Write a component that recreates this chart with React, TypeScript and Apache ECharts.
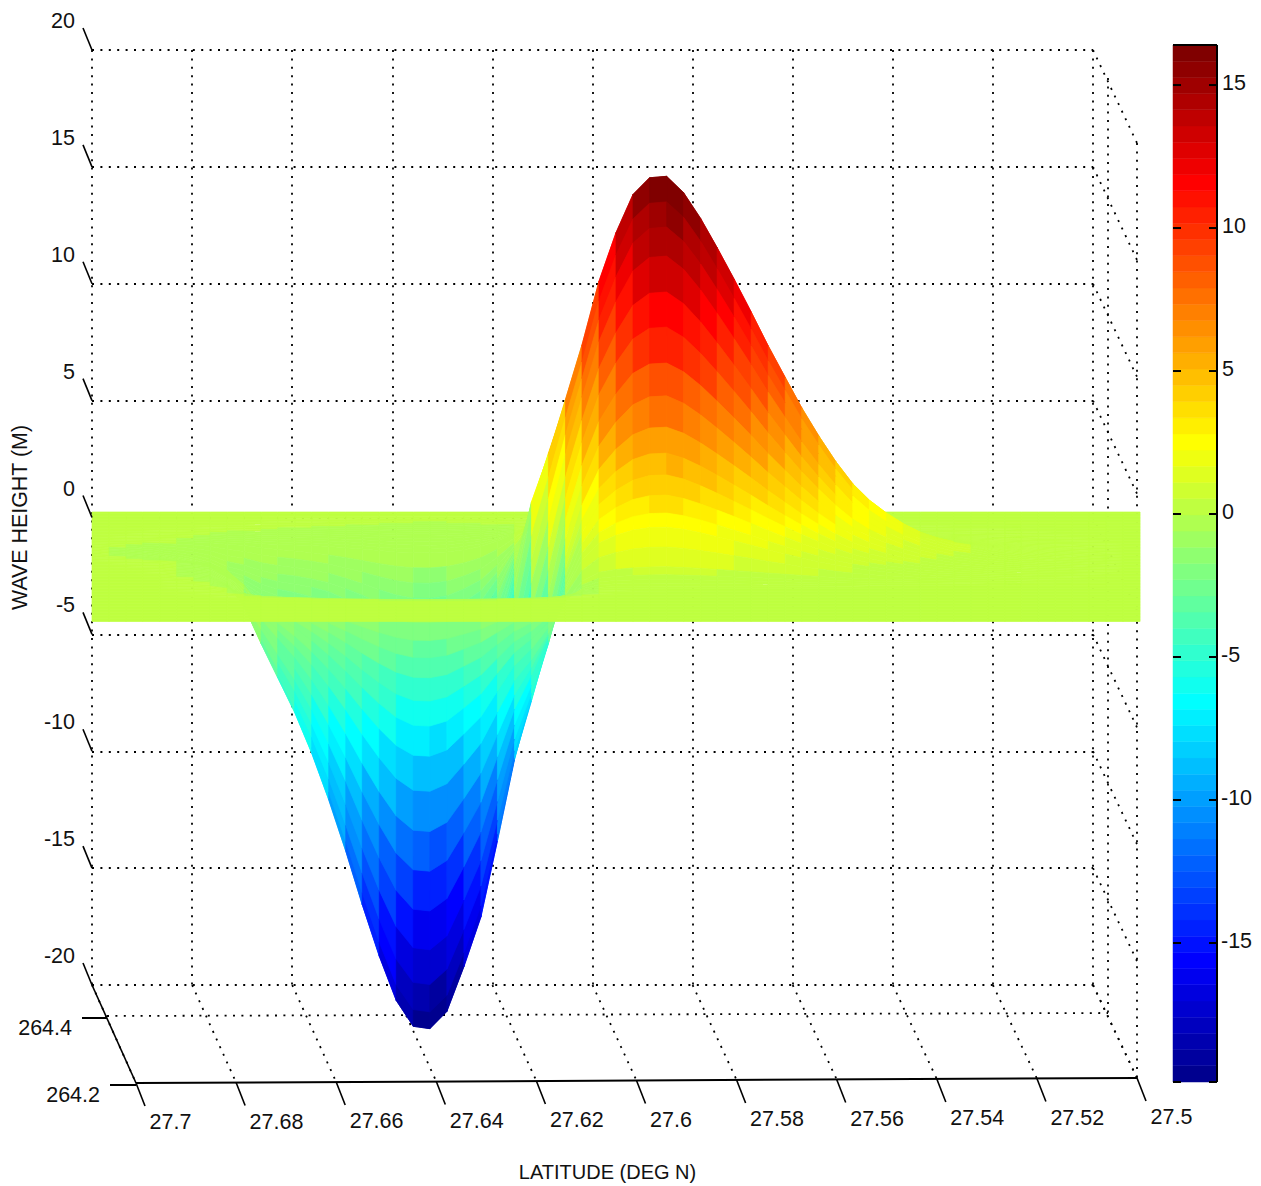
import React, { useEffect, useRef } from "react";
import * as echarts from "echarts";

const FONT = "Liberation Sans";

const latitudes = [27.7, 27.6966, 27.6932, 27.6899, 27.6865, 27.6831, 27.6797, 27.6764, 27.673, 27.6696, 27.6662, 27.6629, 27.6595, 27.6561, 27.6527, 27.6493, 27.646, 27.6426, 27.6392, 27.6358, 27.6325, 27.6291, 27.6257, 27.6223, 27.619, 27.6156, 27.6122, 27.6088, 27.6054, 27.6021, 27.5987, 27.5953, 27.5919, 27.5886, 27.5852, 27.5818, 27.5784, 27.5751, 27.5717, 27.5683, 27.5649, 27.5615, 27.5582, 27.5548, 27.5514, 27.548, 27.5447, 27.5413, 27.5379, 27.5345, 27.5312, 27.5278, 27.5244, 27.521, 27.5176, 27.5143, 27.5109, 27.5075, 27.5041, 27.5008, 27.4974, 27.494, 27.4906];

// Height of the crest, of the trough and of the shallow shelf along latitude (m)
const crestProfile = [0, 0, 0, 0, 0, 0, 0, 0, 0, 0, 0, 0, 0, 0, 0, 0, 0, 0, 0, 0, 0, 0.1, 0.4, 1, 2.2, 4, 6.55, 7.6, 8.25, 9.6, 11.95, 13.97, 15.6, 16.3, 16.35, 15.65, 14.55, 13.3, 11.95, 10.55, 9.1, 7.75, 6.45, 5.25, 4.15, 3.2, 2.5, 1.95, 1.48, 1.1, 0.84, 0.62, 0.5, 0.38, 0.28, 0.2, 0.14, 0.1, 0.07, 0.04, 0.02, 0, 0];
const troughProfile = [0, 0, 0, 0, 0, -0.035, -0.06, -0.12, -0.5, -1.5, -3.1, -4.55, -6.05, -7.8, -9.8, -12, -14.3, -16.5, -18.4, -19.5, -19.6, -18.9, -17.1, -15.2, -12.4, -9.6, -7.86, -5.5, -2.5, -0.8, -0.15, -0.05, -0.04, -0.02, 0, 0, 0, 0, 0, 0, 0, 0, 0, 0, 0, 0, 0, 0, 0, 0, 0, 0, 0, 0, 0, 0, 0, 0, 0, 0, 0, 0, 0];
const shelfProfile = [0, -0.04, -0.08, -0.13, -0.2, -0.3, -0.42, -0.6, -0.9, -0.9, -0.9, -0.8, -0.6, -0.4, -0.2, -0.1, 0, 0, 0, 0, 0, 0, 0, 0, 0, 0, 0, 0, 0, 0, 0, 0, 0, 0, 0, 0, 0, 0, 0, 0, 0, 0, 0, 0, 0, 0, 0, 0, 0, 0, 0, 0, 0, 0, 0, 0, 0, 0, 0, 0, 0, 0, 0];

// Share of that height reached on each row across longitude, back to front
const crestAcross = [0, 0, 0, 0, 0, 0, 0, 0.001, 0.002, 0.004, 0.008, 0.013, 0.02, 0.03, 0.04, 0.055, 0.075, 0.1, 0.13, 0.17, 0.21, 0.26, 0.32, 0.39, 0.47, 0.56, 0.65, 0.74, 0.82, 0.9, 0.96, 1, 0.937, 0.875, 0.803, 0.713, 0.625, 0.535, 0.453, 0.375, 0.311, 0.258, 0.209, 0.166, 0.133, 0.085, 0.037, 0.02, 0.012, 0.006, 0.002, 0, 0, 0, 0, 0, 0, 0, 0, 0, 0, 0, 0, 0, 0, 0, 0, 0, 0, 0, 0, 0, 0, 0];
const troughAcross = [0, 0, 0, 0.0008, 0.001, 0.0013, 0.0016, 0.002, 0.003, 0.004, 0.005, 0.006, 0.008, 0.01, 0.012, 0.016, 0.02, 0.025, 0.03, 0.06, 0.09, 0.12, 0.15, 0.18, 0.22, 0.26, 0.31, 0.36, 0.41, 0.46, 0.52, 0.58, 0.65, 0.72, 0.78, 0.85, 0.9, 0.95, 0.98, 1, 0.96, 0.897, 0.818, 0.73, 0.64, 0.55, 0.459, 0.379, 0.31, 0.252, 0.198, 0.151, 0.11, 0.068, 0.045, 0.025, 0.012, 0.005, 0.002, 0.001, 0, 0, 0, 0, 0, 0, 0, 0, 0, 0, 0, 0, 0, 0];
const shelfAcross = [0, 0, 0, 0, 0, 0, 0, 0, 0, 0.005, 0.01, 0.02, 0.035, 0.05, 0.06, 0.075, 0.09, 0.105, 0.12, 0.14, 0.3, 0.5, 0.7, 0.85, 0.95, 1, 1, 0.95, 0.85, 0.7, 0.5, 0.3, 0.14, 0.12, 0.1, 0.08, 0.065, 0.05, 0.04, 0.035, 0.03, 0.025, 0.02, 0.01, 0.005, 0, 0, 0, 0, 0, 0, 0, 0, 0, 0, 0, 0, 0, 0, 0, 0, 0, 0, 0, 0, 0, 0, 0, 0, 0, 0, 0, 0, 0];

const latTicks = [27.7, 27.68, 27.66, 27.64, 27.62, 27.6, 27.58, 27.56, 27.54, 27.52, 27.5];
const heightTicks = [20, 15, 10, 5, 0, -5, -10, -15, -20];
const colorTicks = [15, 10, 5, 0, -5, -10, -15];
const CLIM_MIN = -19.86;
const CLIM_MAX = 16.4;

function buildJet(): string[] {
  const u: number[] = [];
  for (let k = 1; k <= 16; k++) u.push(k / 16);
  for (let k = 0; k < 15; k++) u.push(1);
  for (let k = 16; k >= 1; k--) u.push(k / 16);
  const at = (pos: number) => (pos >= 0 && pos < u.length ? u[pos] : 0);
  const out: string[] = [];
  const h = (v: number) => Math.round(v * 255).toString(16).padStart(2, "0");
  for (let i = 1; i <= 64; i++) {
    out.push("#" + h(at(i - 25)) + h(at(i - 9)) + h(at(i + 7)));
  }
  return out;
}
const jet = buildJet();
const colorOf = (z: number) => {
  const idx = Math.floor(((z - CLIM_MIN) / (CLIM_MAX - CLIM_MIN)) * 64);
  return jet[Math.max(0, Math.min(63, idx))];
};
const heightAt = (c: number, r: number) =>
  crestProfile[c] * crestAcross[r] +
  troughProfile[c] * troughAcross[r] +
  shelfProfile[c] * shelfAcross[r];

const rowShift = (r: number) => -5.5 + r * 1.5;

const surfaceData: number[][] = [];
for (let r = 0; r < crestAcross.length - 1; r++) {
  for (let c = 0; c < latitudes.length - 1; c++) {
    surfaceData.push([latitudes[c], heightAt(c, r), c, r]);
  }
}

function renderCell(_: any, api: any) {
  const c = api.value(2);
  const r = api.value(3);
  const pt = (cc: number, rr: number) => {
    const p = api.coord([latitudes[cc], heightAt(cc, rr)]);
    return [p[0], p[1] + rowShift(rr)];
  };
  const fill = colorOf(heightAt(c, r));
  return {
    type: "polygon",
    shape: { points: [pt(c, r), pt(c + 1, r), pt(c + 1, r + 1), pt(c, r + 1)] },
    style: { fill, stroke: fill, lineWidth: 0.7 },
    silent: true,
  };
}

const DOT = [2, 6.4];
const dotted = { stroke: "#000", lineWidth: 1.8, lineDash: DOT, fill: "none" };
const solid = { stroke: "#000", lineWidth: 1.6, fill: "none" };
const line = (a: number[], b: number[], style: any) => ({
  type: "line",
  shape: { x1: a[0], y1: a[1], x2: b[0], y2: b[1] },
  style,
  silent: true,
});
const label = (text: string, x: number, y: number, align: string, size = 21.5) => ({
  type: "text",
  style: {
    text,
    x,
    y,
    textAlign: align,
    textVerticalAlign: "middle",
    font: `${size}px "${FONT}"`,
    fill: "#111",
  },
  silent: true,
});

const share = (lat: number) => (27.7 - lat) / 0.2;
const front = (p: number[], lat: number) => [p[0] + 44, p[1] + 98 - 5 * share(lat)];
const mid = (p: number[], lat: number) => [p[0] + 15, p[1] + 31 - 3 * share(lat)];

function renderWalls(_: any, api: any) {
  const children: any[] = [];
  for (const lat of latTicks) {
    const b = api.coord([lat, -20]);
    children.push(line(b, front(b, lat), dotted));
  }
  const bl = api.coord([27.7, -20]);
  const br = api.coord([27.5, -20]);
  children.push(line(mid(bl, 27.7), mid(br, 27.5), dotted));
  for (const z of heightTicks) {
    const p = api.coord([27.5, z]);
    children.push(line(p, front(p, 27.5), dotted));
  }
  const top = api.coord([27.5, 20]);
  const mt = mid(top, 27.5);
  children.push(line(mt, mid(br, 27.5), dotted));
  children.push(line(front(top, 27.5), front(br, 27.5), dotted));
  return { type: "group", children, silent: true };
}

function renderFrame(_: any, api: any) {
  const children: any[] = [];
  const bl = api.coord([27.7, -20]);
  const br = api.coord([27.5, -20]);
  const fl = front(bl, 27.7);
  const fr = front(br, 27.5);
  children.push(line(bl, fl, solid));
  children.push(line(fl, fr, { ...solid, lineWidth: 2 }));
  for (const z of heightTicks) {
    const p = api.coord([27.7, z]);
    children.push(line(p, [p[0] - 9, p[1] - 22], solid));
    children.push(label(String(z), p[0] - 17, p[1] - 29, "right"));
  }
  for (const lat of latTicks) {
    const f = front(api.coord([lat, -20]), lat);
    children.push(line(f, [f[0] + 9, f[1] + 23], solid));
    children.push(label(String(lat), f[0] + 13.5, f[1] + 39, "left"));
  }
  const ml = mid(bl, 27.7);
  children.push(line([ml[0] - 25, ml[1] + 2], [ml[0], ml[1] + 2], { ...solid, lineWidth: 2 }));
  children.push(label("264.4", ml[0] - 35, ml[1] + 12, "right"));
  children.push(line([fl[0] - 26, fl[1] + 2], [fl[0], fl[1] + 2], { ...solid, lineWidth: 2 }));
  children.push(label("264.2", fl[0] - 36, fl[1] + 12, "right"));
  children.push(label("LATITUDE (DEG N)", (bl[0] + br[0]) / 2 + 15, fl[1] + 89, "center", 20));
  return { type: "group", children, silent: true };
}

const barData = jet.map((_, i) => [
  0,
  CLIM_MIN + (i * (CLIM_MAX - CLIM_MIN)) / 64,
  CLIM_MIN + ((i + 1) * (CLIM_MAX - CLIM_MIN)) / 64,
  i,
]);

function renderBar(_: any, api: any) {
  const a = api.coord([0, api.value(1)]);
  const b = api.coord([1, api.value(2)]);
  const fill = jet[api.value(3)];
  return {
    type: "rect",
    shape: { x: a[0], y: b[1], width: b[0] - a[0], height: a[1] - b[1] },
    style: { fill, stroke: fill, lineWidth: 0.5 },
    silent: true,
  };
}

function renderBarFrame(_: any, api: any) {
  const children: any[] = [];
  const thick = { ...solid, lineWidth: 2 };
  const lt = api.coord([0, CLIM_MAX]);
  const rt = api.coord([1, CLIM_MAX]);
  const lb = api.coord([0, CLIM_MIN]);
  const rb = api.coord([1, CLIM_MIN]);
  children.push(line(lt, rt, thick));
  children.push(line(rt, rb, thick));
  children.push(line(lb, [lb[0] + 8, lb[1]], thick));
  children.push(line([rb[0] - 8, rb[1]], rb, thick));
  for (const v of colorTicks) {
    const l = api.coord([0, v]);
    const r = api.coord([1, v]);
    children.push(line(l, [l[0] + 8, l[1]], thick));
    children.push(line([r[0] - 8, r[1]], r, thick));
    children.push(label(String(v), r[0] + (v < 0 ? 4 : 5), r[1] - 2, "left"));
  }
  return { type: "group", children, silent: true };
}

export default function App() {
  const ref = useRef<HTMLDivElement>(null);
  useEffect(() => {
    document.body.style.margin = "0";
    const chart = echarts.init(ref.current!, undefined, { renderer: "svg" });
    chart.setOption({
      animation: false,
      backgroundColor: "#fff",
      textStyle: { fontFamily: FONT },
      grid: [
        { left: 92, top: 50, width: 1001, height: 935 },
        { left: 1173, top: 45, width: 44, height: 1037 },
      ],
      xAxis: [
        {
          type: "value",
          gridIndex: 0,
          min: 27.5,
          max: 27.7,
          interval: 0.02,
          inverse: true,
          axisLine: { show: false },
          axisTick: { show: false },
          axisLabel: { show: false },
          splitLine: { show: true, lineStyle: { color: "#000", width: 1.8, type: DOT } },
        },
        {
          type: "value",
          gridIndex: 1,
          min: 0,
          max: 1,
          axisLine: { show: false },
          axisTick: { show: false },
          axisLabel: { show: false },
          splitLine: { show: false },
        },
      ],
      yAxis: [
        {
          type: "value",
          gridIndex: 0,
          min: -20,
          max: 20,
          interval: 5,
          name: "WAVE HEIGHT (M)",
          nameLocation: "middle",
          nameGap: 62,
          nameRotate: 90,
          nameTextStyle: { fontFamily: FONT, fontSize: 21.4, color: "#111" },
          axisLine: { show: false },
          axisTick: { show: false },
          axisLabel: { show: false },
          splitLine: { show: true, lineStyle: { color: "#000", width: 1.8, type: DOT } },
        },
        {
          type: "value",
          gridIndex: 1,
          min: CLIM_MIN,
          max: CLIM_MAX,
          axisLine: { show: false },
          axisTick: { show: false },
          axisLabel: { show: false },
          splitLine: { show: false },
        },
      ],
      series: [
        {
          type: "custom",
          name: "walls",
          xAxisIndex: 0,
          yAxisIndex: 0,
          data: [[27.7, -20]],
          renderItem: renderWalls,
          silent: true,
          clip: false,
          z: 1,
        },
        {
          type: "custom",
          name: "wave surface",
          xAxisIndex: 0,
          yAxisIndex: 0,
          data: surfaceData,
          encode: { x: 0, y: 1 },
          renderItem: renderCell,
          silent: true,
          clip: false,
          progressive: 0,
          z: 3,
        },
        {
          type: "custom",
          name: "frame",
          xAxisIndex: 0,
          yAxisIndex: 0,
          data: [[27.7, -20]],
          renderItem: renderFrame,
          silent: true,
          clip: false,
          z: 4,
        },
        {
          type: "custom",
          name: "colorbar",
          xAxisIndex: 1,
          yAxisIndex: 1,
          data: barData,
          encode: { x: 0, y: 1 },
          renderItem: renderBar,
          silent: true,
          clip: false,
          z: 3,
        },
        {
          type: "custom",
          name: "colorbar frame",
          xAxisIndex: 1,
          yAxisIndex: 1,
          data: [[0, CLIM_MIN]],
          renderItem: renderBarFrame,
          silent: true,
          clip: false,
          z: 5,
        },
      ],
    });
    return () => chart.dispose();
  }, []);
  return (
    <div
      ref={ref}
      style={{ position: "absolute", left: 0, top: 0, width: 1261, height: 1186 }}
    />
  );
}
